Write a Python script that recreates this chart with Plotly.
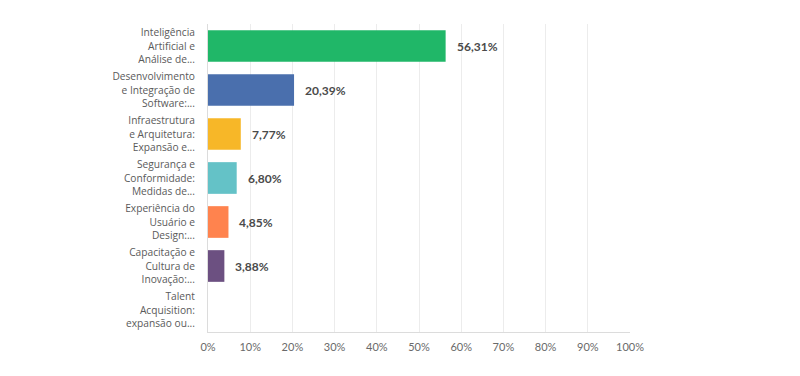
import plotly.graph_objects as go

categories = [
    "Inteligência<br>Artificial e<br>Análise de...",
    "Desenvolvimento<br>e Integração de<br>Software:...",
    "Infraestrutura<br>e Arquitetura:<br>Expansão e...",
    "Segurança e<br>Conformidade:<br>Medidas de...",
    "Experiência do<br>Usuário e<br>Design:...",
    "Capacitação e<br>Cultura de<br>Inovação:...",
    "Talent<br>Acquisition:<br>expansão ou...",
]
values = [56.31, 20.39, 7.77, 6.80, 4.85, 3.88, 0.0]
value_labels = ["56,31%", "20,39%", "7,77%", "6,80%", "4,85%", "3,88%", ""]
colors = ["#20B768", "#4A6FAD", "#F7B728", "#64C2C7", "#FF834E", "#6C5081", "#999999"]
tick_vals = [0, 10, 20, 30, 40, 50, 60, 70, 80, 90, 100]
tick_text = [f"{v}%" for v in tick_vals]

fig = go.Figure()
fig.add_trace(go.Bar(
    x=values, y=categories, orientation="h",
    marker=dict(color=colors, line=dict(width=0)),
    width=0.72, hoverinfo="skip",
))
for c, v, t in zip(categories, values, value_labels):
    if t:
        fig.add_annotation(x=v, y=c, text=f"<b>{t}</b>", showarrow=False,
                           xanchor="left", xshift=9, yshift=0,
                           font=dict(family="Lato, Open Sans, sans-serif", size=12, color="#4a4a4a"))

fig.update_layout(
    width=800, height=376,
    margin=dict(l=200, r=178, t=16, b=52, autoexpand=False),
    paper_bgcolor="white", plot_bgcolor="white",
    showlegend=False,
    font=dict(family="Lato, Open Sans, sans-serif", size=11, color="#6a6a6a"),
    xaxis=dict(range=[0, 100], tickvals=tick_vals, ticktext=tick_text,
               showgrid=True, gridcolor="#ececec", gridwidth=1,
               zeroline=False, showline=True, linecolor="#dcdcdc",
               ticks="", ticklabelstandoff=5, fixedrange=True, automargin=False,
               tickfont=dict(size=11, color="#6a6a6a")),
    yaxis=dict(autorange="reversed", showgrid=False, zeroline=False,
               showline=True, linecolor="#dcdcdc", ticks="",
               ticklabelstandoff=10, fixedrange=True, automargin=False,
               tickfont=dict(family="Open Sans, sans-serif", size=10.2, color="#5a5a5a")),
)
fig.write_html("out.html")
